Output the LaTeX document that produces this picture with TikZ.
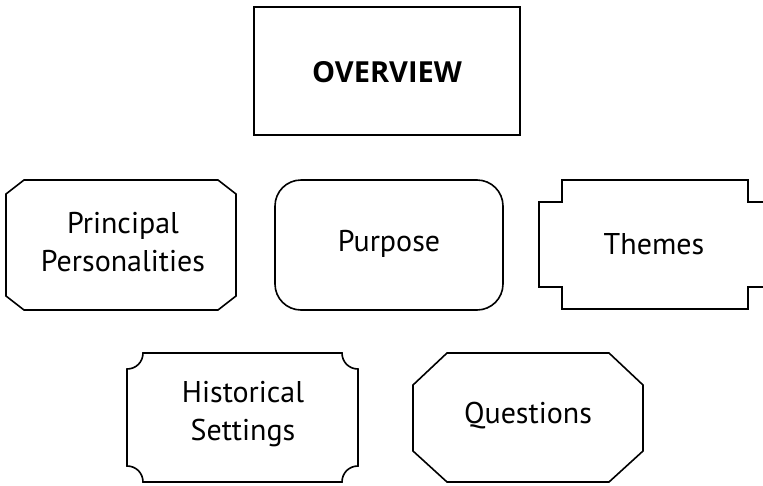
\documentclass[tikz,border=0pt]{standalone}
\usepackage{fontspec}
\setmainfont{PT Sans}
\newfontfamily\titlefont{Open Sans}
\begin{document}
\begin{tikzpicture}[x=1pt,y=-1pt,
  outline/.style={draw=black,line width=1.6pt,line join=miter},
  label/.style={font=\fontsize{30}{38}\selectfont,align=center,inner sep=0pt},
  title/.style={font=\titlefont\bfseries\fontsize{29}{30}\selectfont,inner sep=0pt}]
\useasboundingbox (0,0) rectangle (763,485);
\clip (0,0) rectangle (763,485);
% Overview
\draw[outline] (254,7) rectangle (520,135);
\node[title] (overview) at (387,72) {OVERVIEW};
% Principal Personalities (chamfered)
\draw[outline] (24,180) -- (218,180) -- (236,194) -- (236,296) -- (218,310) -- (24,310) -- (6,296) -- (6,194) -- cycle;
\node[label] (principal) at (123,242) {Principal\\Personalities};
% Purpose (rounded)
\draw[outline,rounded corners=26pt] (275,180) rectangle (503,310);
\node[label] (purpose) at (389,244) {Purpose};
% Themes (notched)
\draw[outline] (562,180) -- (748,180) -- (748,202) -- (772,202) -- (772,287) -- (748,287) -- (748,309) -- (562,309) -- (562,287) -- (539,287) -- (539,202) -- (562,202) -- cycle;
\node[label] (themes) at (654,244) {Themes};
% Historical Settings (concave corners)
\draw[outline] (143,353) -- (342,353) .. controls (342,362) and (349,369) .. (358,369)
  -- (358,466) .. controls (349,466) and (342,473) .. (342,482)
  -- (143,482) .. controls (143,473) and (136,466) .. (127,466)
  -- (127,369) .. controls (136,369) and (143,362) .. (143,353) -- cycle;
\node[label] (historical) at (243,414) {Historical\\Settings};
% Questions (octagon)
\draw[outline] (447,353) -- (609,353) -- (643,385) -- (643,451) -- (609,482) -- (447,482) -- (413,451) -- (413,385) -- cycle;
\node[label] (questions) at (528,416) {Questions};
\end{tikzpicture}
\end{document}
